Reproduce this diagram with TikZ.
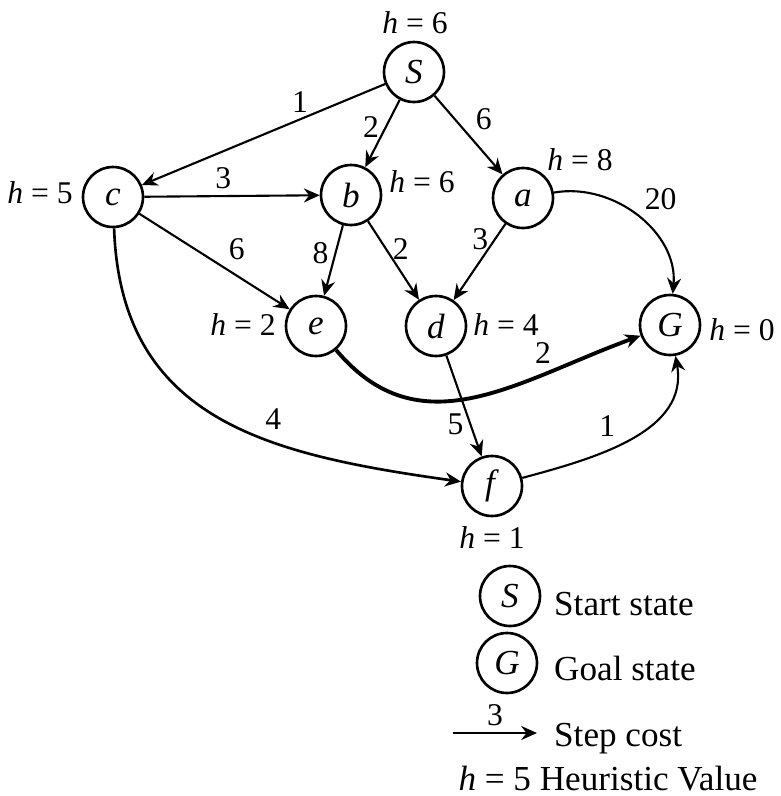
\documentclass[tikz,border=0pt]{standalone}
\usepackage{fontspec}
\setmainfont{Liberation Serif}
\usetikzlibrary{arrows.meta}

\begin{document}
\begin{tikzpicture}[x=0.02cm,y=0.02cm,font=\fontsize{18}{21}\selectfont,
		>={Stealth[length=9pt,width=8pt,inset=3pt]},
		legendtext/.style={font=\fontsize{20}{24}\selectfont}]
	\useasboundingbox (0,0) rectangle (781,-796);
	\begin{scope}[every node/.style={circle,draw,line width=1.5pt,minimum size=1.2cm,inner sep=0pt,font=\fontsize{20}{24}\selectfont}]
		\node (S) at (414,-72) {\textit{S}};
		\node (c) at (113,-197) {\textit{c}};
		\node (b) at (351,-195) {\textit{b}};
		\node (a) at (523,-198) {\textit{a}};
		\node (e) at (316,-326) {\textit{e}};
		\node (d) at (436,-326) {\textit{d}};
		\node (G) at (670,-325) {\textit{G}};
		\node (f) at (492,-486) {\textit{f}};
	\end{scope}
	
	% heuristic values
	\node (hS) at (415,-23) {\textit{h} = 6};
	\node (hc) at (40,-193) {\textit{h} = 5};
	\node (hb) at (422,-182) {\textit{h} = 6};
	\node (ha) at (580,-160) {\textit{h} = 8};
	\node (he) at (243,-325) {\textit{h} = 2};
	\node (hd) at (506,-325) {\textit{h} = 4};
	\node (hG) at (742,-330) {\textit{h} = 0};
	\node (hf) at (492,-538) {\textit{h} = 1};
	
	\begin{scope}[every edge/.style={draw=black,line width=1.2pt}]
		\path [->] (S) edge node [above,pos=.35] {1} (c);
		\path [->] (S) edge node [left,pos=.4] {2} (b);
		\path [->] (S) edge node [right=8pt,pos=.3] {6} (a);
		\path [->] (c) edge node [above,pos=.45] {3} (b);
		\path [->] (c) edge node [above right,pos=.55] {6} (e);
		\path [->] (b) edge node [left,pos=.4] {8} (e);
		\path [->] (b) edge node [right,pos=.35] {2} (d);
		\path [->] (a) edge node [left,pos=.2] {3} (d);
		\path [->] (a) edge [out=10,in=85] node [above right,pos=.5] {20} (G);
		\path [->] (e) edge [out=-50,in=-160,looseness=1.1,line width=2.2pt] node [above=2pt,pos=.72] {2} (G);
		\path [->] (d) edge node [left,pos=.68] {5} (f);
		\path [->] (c) edge [out=-88,in=172,looseness=1.15,line width=1.5pt] node [above right,pos=.6] {4} (f);
		\path [->] (f) edge [out=15,in=-80] node [above left,pos=.45] {1} (G);
	\end{scope}
	
	% legend
	\begin{scope}[every node/.style={circle,draw,line width=1.5pt,minimum size=1.2cm,inner sep=0pt,font=\fontsize{20}{24}\selectfont}]
		\node (LS) at (510,-596) {\textit{S}};
		\node (LG) at (507,-663) {\textit{G}};
	\end{scope}
	\node [legendtext,anchor=west] (tS) at (548,-604) {Start state};
	\node [legendtext,anchor=west] (tG) at (548,-668) {Goal state};
	\coordinate (k1) at (453,-733);
	\coordinate (k2) at (537,-733);
	\path [->] (k1) edge [line width=1.2pt] node [above] {3} (k2);
	\node [legendtext,anchor=west] (tk) at (548,-739) {Step cost};
	\node [legendtext] (th) at (608,-779) {\textit{h} = 5 Heuristic Value};
\end{tikzpicture}
\end{document}
